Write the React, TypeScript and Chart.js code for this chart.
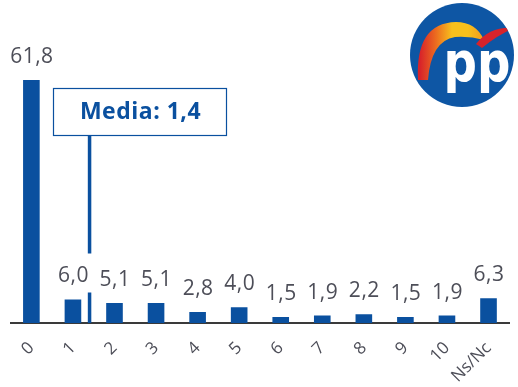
import { useEffect, useRef } from 'react';
import { Chart, registerables } from 'chart.js';

Chart.register(...registerables);

const categories = ['0', '1', '2', '3', '4', '5', '6', '7', '8', '9', '10', 'Ns/Nc'];
const values = [61.8, 6.0, 5.1, 5.1, 2.8, 4.0, 1.5, 1.9, 2.2, 1.5, 1.9, 6.3];
const meanValue = 1.4;
const meanText = 'Media: 1,4';
const logoText = 'pp';

const BLUE = '#0a509f';
const GRAY = '#4d4e58';
const FONT = '"Open Sans", "Noto Sans", sans-serif';

const fmt = (v: number) => v.toFixed(1).replace('.', ',');

const valueLabelPlugin = {
  id: 'valueLabels',
  afterDatasetsDraw(chart: any) {
    const ctx = chart.ctx;
    const meta = chart.getDatasetMeta(0);
    ctx.save();
    ctx.fillStyle = GRAY;
    ctx.font = `21px ${FONT}`;
    (ctx as any).letterSpacing = '0.5px';
    ctx.textAlign = 'center';
    ctx.textBaseline = 'alphabetic';
    meta.data.forEach((bar: any, i: number) => {
      ctx.fillText(fmt(values[i]), bar.x + 0.5, bar.y - 17);
    });
    ctx.restore();
  },
};

const meanPlugin = {
  id: 'meanMarker',
  afterDatasetsDraw(chart: any) {
    const ctx = chart.ctx;
    const xs = chart.scales.x;
    const ys = chart.scales.y;
    const x = xs.getPixelForValue(meanValue);
    const base = ys.getPixelForValue(0);
    const bar1 = chart.getDatasetMeta(0).data[1];
    const labelBase = bar1.y - 17;
    const boxL = 53, boxT = 88, boxW = 173, boxH = 47;
    ctx.save();
    ctx.strokeStyle = BLUE;
    ctx.lineWidth = 3.5;
    ctx.beginPath();
    ctx.moveTo(x, boxT + boxH);
    ctx.lineTo(x, labelBase - 29);
    ctx.moveTo(x, labelBase + 10);
    ctx.lineTo(x, base);
    ctx.stroke();
    ctx.fillStyle = '#ffffff';
    ctx.fillRect(boxL, boxT, boxW, boxH);
    ctx.lineWidth = 1.2;
    ctx.strokeRect(boxL + 0.5, boxT + 0.5, boxW, boxH);
    ctx.fillStyle = BLUE;
    ctx.font = `bold 23px ${FONT}`;
    (ctx as any).letterSpacing = '0.5px';
    ctx.textAlign = 'center';
    ctx.textBaseline = 'middle';
    ctx.fillText(meanText, boxL + boxW / 2 + 1, boxT + boxH / 2 + 1);
    ctx.restore();
  },
};

const logoPlugin = {
  id: 'ppLogo',
  afterDraw(chart: any) {
    const ctx = chart.ctx;
    const cx = 462, cy = 55, r = 52;
    ctx.save();
    ctx.beginPath();
    ctx.arc(cx, cy, r, 0, Math.PI * 2);
    ctx.fillStyle = '#0e56a4';
    ctx.fill();
    ctx.clip();
    const grad = ctx.createLinearGradient(420, 0, 484, 0);
    grad.addColorStop(0, '#d8232a');
    grad.addColorStop(0.25, '#ec6c1f');
    grad.addColorStop(0.5, '#f8c01c');
    grad.addColorStop(0.75, '#f8c01c');
    grad.addColorStop(1, '#f29a1d');
    ctx.beginPath();
    ctx.moveTo(418, 80);
    ctx.quadraticCurveTo(415, 23, 456, 22);
    ctx.quadraticCurveTo(476, 22, 484, 40);
    ctx.quadraticCurveTo(470, 36, 455, 37);
    ctx.quadraticCurveTo(431, 41, 428, 80);
    ctx.closePath();
    ctx.fillStyle = grad;
    ctx.fill();
    ctx.beginPath();
    ctx.moveTo(476, 44);
    ctx.quadraticCurveTo(490, 26, 514, 28);
    ctx.quadraticCurveTo(496, 36, 482, 48);
    ctx.closePath();
    ctx.fillStyle = '#d6232b';
    ctx.fill();
    ctx.fillStyle = '#ffffff';
    ctx.font = 'bold 55px "DejaVu Sans", sans-serif';
    ctx.textAlign = 'center';
    ctx.textBaseline = 'alphabetic';
    ctx.translate(477, 81);
    ctx.scale(0.85, 1);
    ctx.fillText(logoText, 0, 0);
    ctx.restore();
  },
};

export default function App() {
  const ref = useRef<HTMLCanvasElement | null>(null);
  useEffect(() => {
    if (!ref.current) return;
    const chart = new Chart(ref.current, {
      type: 'bar',
      data: {
        labels: categories,
        datasets: [
          {
            data: values,
            backgroundColor: BLUE,
            barPercentage: 1,
            categoryPercentage: 0.4,
          },
        ],
      },
      options: {
        animation: false,
        responsive: true,
        maintainAspectRatio: false,
        layout: { padding: { left: 10.6, right: 1.4, top: 47.8, bottom: 0 } },
        plugins: { legend: { display: false }, tooltip: { enabled: false } },
        scales: {
          x: {
            grid: { display: false, drawTicks: false },
            border: { display: true, color: '#3a3a3a', width: 2 },
            ticks: {
              color: GRAY,
              font: { family: FONT, size: 17 },
              minRotation: 45,
              maxRotation: 45,
              padding: 15,
            },
            afterFit: (s: any) => {
              s.height = 64;
            },
          },
          y: { display: false, min: 0, max: 70 },
        },
      },
      plugins: [valueLabelPlugin, meanPlugin, logoPlugin],
    });
    return () => chart.destroy();
  }, []);
  return (
    <div style={{ position: 'fixed', left: 0, top: 0, width: 518, height: 387, background: '#fff' }}>
      <canvas ref={ref} />
    </div>
  );
}
